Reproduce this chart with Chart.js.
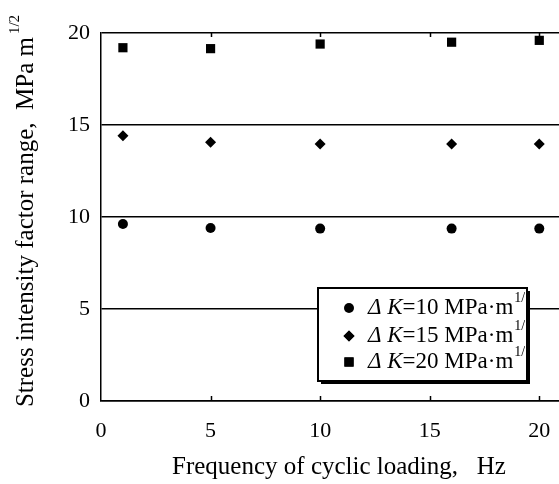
<!DOCTYPE html>
<html>
<head>
<meta charset="utf-8">
<script src="https://cdn.jsdelivr.net/npm/chart.js@4"></script>
<style>
  html, body { margin: 0; padding: 0; background: #fff; }
  #wrap { width: 559px; height: 484px; }
</style>
</head>
<body>
<div id="wrap"><canvas id="myChart" width="559" height="484"></canvas></div>
<script>
// frequency of cyclic loading, Hz
var frequency = [1, 5, 10, 16, 20];
// measured stress intensity factor range, MPa m^1/2
var dk10 = [9.62, 9.40, 9.37, 9.37, 9.37];
var dk15 = [14.42, 14.06, 13.97, 13.97, 13.97];
var dk20 = [19.2, 19.15, 19.4, 19.5, 19.6];
var seriesLabels = ['10', '15', '20'];
var xTicks = [0, 5, 10, 15, 20];
var yTicks = [0, 5, 10, 15, 20];

var serif = "'Liberation Serif', 'Times New Roman', serif";

function pts(ys) {
    return frequency.map(function (f, i) { return { x: f, y: ys[i] }; });
}

// axis titles, inward ticks and the boxed legend
var extras = {
    id: 'extras',
    afterDraw: function (chart) {
        var c = chart.ctx, a = chart.chartArea;
        var xs = chart.scales.x;
        c.save();
        c.strokeStyle = '#000';
        c.lineWidth = 1.5;
        xTicks.slice(1).forEach(function (v) {
            var px = Math.round(xs.getPixelForValue(v)) + 0.5;
            c.beginPath();
            c.moveTo(px, a.bottom); c.lineTo(px, a.bottom - 5);
            c.moveTo(px, a.top); c.lineTo(px, a.top + 4);
            c.stroke();
        });

        // x axis title
        c.fillStyle = '#000';
        c.textBaseline = 'middle';
        c.textAlign = 'center';
        c.font = '25px ' + serif;
        c.fillText('Frequency of cyclic loading,   Hz', 339, 467);

        // y axis title
        c.translate(33, 211);
        c.rotate(-Math.PI / 2);
        c.textBaseline = 'alphabetic';
        c.font = '25px ' + serif;
        var main = 'Stress intensity factor range,  MPa m';
        var w = c.measureText(main).width;
        c.font = '15px ' + serif;
        var sw = c.measureText('1/2').width;
        var x0 = -(w + sw + 3) / 2;
        c.font = '25px ' + serif;
        c.textAlign = 'left';
        c.fillText(main, x0, 0);
        c.font = '15px ' + serif;
        c.fillText('1/2', x0 + w + 3, -14);
        c.restore();

        // legend box
        var bx = 318, by = 288, bw = 209, bh = 93;
        c.save();
        c.fillStyle = '#000';
        c.fillRect(bx + 3, by + 3, bw, bh);
        c.fillStyle = '#fff';
        c.fillRect(bx, by, bw, bh);
        c.strokeStyle = '#000';
        c.lineWidth = 2;
        c.strokeRect(bx, by, bw, bh);
        c.beginPath();
        c.rect(bx + 1, by + 1, bw - 3, bh - 2);
        c.clip();
        var rows = [308, 336, 362];
        chart.data.datasets.forEach(function (ds, i) {
            var ry = rows[i];
            Chart.helpers.drawPoint(c, {
                pointStyle: ds.pointStyle, radius: ds.pointRadius, rotation: 0,
                borderWidth: 0
            }, 349, ry);
            c.fillStyle = '#000';
            c.fill();
            c.textBaseline = 'middle';
            c.textAlign = 'left';
            c.font = 'italic 23px ' + serif;
            var tx = 368;
            c.fillText('\u0394 K', tx, ry);
            tx += c.measureText('\u0394 K').width;
            c.font = '23px ' + serif;
            var t = '=' + seriesLabels[i] + ' MPa\u00b7m';
            c.fillText(t, tx, ry);
            tx += c.measureText(t).width;
            c.font = '14px ' + serif;
            c.fillText('1/2', tx + 1, ry - 10);
        });
        c.restore();
    }
};

var ctx = document.getElementById('myChart').getContext('2d');
var myChart = new Chart(ctx, {
    type: 'scatter',
    data: {
        datasets: [{
            label: '\u0394K=10 MPa\u00b7m1/2',
            data: pts(dk10),
            pointStyle: 'circle',
            pointRadius: 5,
            backgroundColor: '#000',
            borderColor: '#000',
            borderWidth: 0
        }, {
            label: '\u0394K=15 MPa\u00b7m1/2',
            data: pts(dk15),
            pointStyle: 'rectRot',
            pointRadius: 5.5,
            backgroundColor: '#000',
            borderColor: '#000',
            borderWidth: 0
        }, {
            label: '\u0394K=20 MPa\u00b7m1/2',
            data: pts(dk20),
            pointStyle: 'rect',
            pointRadius: 6.5,
            backgroundColor: '#000',
            borderColor: '#000',
            borderWidth: 0
        }]
    },
    options: {
        responsive: false,
        animation: false,
        layout: { autoPadding: false, padding: { top: 33, right: 0, left: 0, bottom: 0 } },
        plugins: {
            legend: { display: false },
            tooltip: { enabled: false }
        },
        scales: {
            x: {
                type: 'linear',
                min: 0,
                max: 20.9,
                afterFit: function (s) {
                    s.height = 83;
                    s.paddingRight = 0;
                    s.paddingLeft = 0;
                },
                afterBuildTicks: function (s) {
                    s.ticks = xTicks.map(function (v) { return { value: v }; });
                },
                grid: { display: true, drawOnChartArea: false, drawTicks: false },
                border: { display: true, color: '#000', width: 1.5 },
                ticks: {
                    color: '#000',
                    padding: 17,
                    maxRotation: 0,
                    font: { family: serif, size: 22 }
                }
            },
            y: {
                type: 'linear',
                min: 0,
                max: 20,
                afterFit: function (s) { s.width = 101; },
                afterBuildTicks: function (s) {
                    s.ticks = yTicks.map(function (v) { return { value: v }; });
                },
                grid: { color: '#000', lineWidth: 1.5, drawTicks: false },
                border: { display: true, color: '#000', width: 1.5 },
                ticks: {
                    color: '#000',
                    padding: 11,
                    font: { family: serif, size: 22 }
                }
            }
        }
    },
    plugins: [extras]
});
</script>
</body>
</html>
